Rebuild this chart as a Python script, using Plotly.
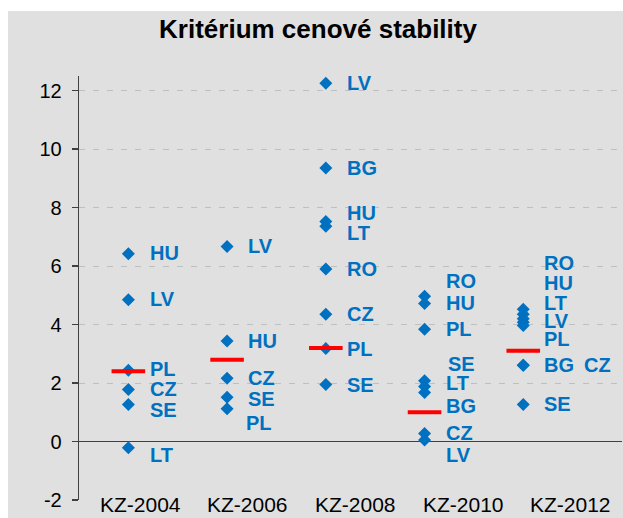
import plotly.graph_objects as go

# ---------------- data ----------------
categories = ["KZ-2004", "KZ-2006", "KZ-2008", "KZ-2010", "KZ-2012"]
column_x = [1, 2, 3, 4, 5]                 # position of each column of diamonds
category_label_x = [1.12, 2.21, 3.30, 4.39, 5.48]

y_tick_values = [-2, 0, 2, 4, 6, 8, 10, 12]
y_tick_labels = ["-2", "0", "2", "4", "6", "8", "10", "12"]

countries_2004 = ["HU", "LV", "PL", "CZ", "SE", "LT"]
values_2004 = [6.42, 4.85, 2.44, 1.78, 1.27, -0.21]

countries_2006 = ["LV", "HU", "CZ", "SE", "PL"]
values_2006 = [6.67, 3.44, 2.16, 1.51, 1.12]

countries_2008 = ["LV", "BG", "HU", "LT", "RO", "CZ", "PL", "SE"]
values_2008 = [12.25, 9.35, 7.52, 7.36, 5.9, 4.35, 3.18, 1.95]

countries_2010 = ["RO", "HU", "PL", "SE", "LT", "BG", "CZ", "LV"]
values_2010 = [4.97, 4.72, 3.84, 2.08, 1.88, 1.68, 0.27, 0.05]

countries_2012 = ["RO", "LT", "HU", "LV", "PL", "BG", "CZ", "SE"]
values_2012 = [4.52, 4.35, 4.2, 4.08, 3.97, 2.61, 2.61, 1.27]

reference_values = [2.4, 2.8, 3.2, 1.0, 3.1]

# label placement (value-axis units)
label_y_2004 = [6.45, 4.86, 2.47, 1.79, 1.08, -0.46]
label_y_2006 = [6.67, 3.45, 2.17, 1.44, 0.62]
label_y_2008 = [12.25, 9.35, 7.81, 7.13, 5.9, 4.35, 3.18, 1.95]
label_y_2010 = [5.49, 4.74, 3.84, 2.65, 1.99, 1.22, 0.30, -0.46]
label_y_2012 = [6.10, 4.74, 5.42, 4.11, 3.49, 2.61, 2.61, 1.27]
label_dx_2004 = [0.2] * 6
label_dx_2006 = [0.19, 0.19, 0.19, 0.19, 0.17]
label_dx_2008 = [0.195] * 8
label_dx_2010 = [0.2, 0.2, 0.2, 0.22, 0.2, 0.2, 0.2, 0.2]
label_dx_2012 = [0.19, 0.19, 0.19, 0.19, 0.19, 0.19, 0.59, 0.19]

groups = [
    (countries_2004, values_2004, label_y_2004, label_dx_2004),
    (countries_2006, values_2006, label_y_2006, label_dx_2006),
    (countries_2008, values_2008, label_y_2008, label_dx_2008),
    (countries_2010, values_2010, label_y_2010, label_dx_2010),
    (countries_2012, values_2012, label_y_2012, label_dx_2012),
]

BLUE = "#0070C0"
RED = "#FF0000"
GREY_BG = "#E0E0E0"
AXIS = "#404040"
FONT = "Liberation Sans, Arial, sans-serif"

W, H = 623, 518
ML, MR, MT, MB = 79, 1, 76, 18
PW, PH = W - ML - MR, H - MT - MB

fig = go.Figure()

xs, ys = [], []
annotations = []
for cx, (names, vals, ly, ldx) in zip(column_x, groups):
    for n, v, y_lab, dx in zip(names, vals, ly, ldx):
        xs.append(cx)
        ys.append(v)
        annotations.append(dict(
            x=cx + dx, y=y_lab, xref="x", yref="y", text=n, showarrow=False,
            xanchor="left", yanchor="middle",
            font=dict(family=FONT, size=20, color=BLUE, weight="bold"),
        ))

fig.add_trace(go.Scatter(
    x=xs, y=ys, mode="markers",
    marker=dict(symbol="diamond", size=10, color=BLUE, line=dict(width=0)),
    hoverinfo="skip", showlegend=False, cliponaxis=False,
))

fig.add_trace(go.Scatter(
    x=column_x, y=reference_values, mode="markers",
    marker=dict(symbol="line-ew", size=24, color=RED,
                line=dict(color=RED, width=4)),
    hoverinfo="skip", showlegend=False, cliponaxis=False,
))

for lx, cat in zip(category_label_x, categories):
    annotations.append(dict(
        x=lx, y=-2, xref="x", yref="y", text=cat, showarrow=False,
        xanchor="center", yanchor="middle", yshift=-4,
        font=dict(family=FONT, size=21, color="#000000"),
    ))

# white strips at the left and top edges of the grey chart area
shapes = [
    dict(type="rect", xref="paper", yref="paper",
         x0=-(ML + 5) / PW, x1=(8 - ML) / PW, y0=-(MB + 5) / PH, y1=1 + (MT + 5) / PH,
         fillcolor="white", line=dict(width=0), layer="below"),
    dict(type="rect", xref="paper", yref="paper",
         x0=-(ML + 5) / PW, x1=1 + (MR + 5) / PW, y0=1 + (MT - 11) / PH, y1=1 + (MT + 5) / PH,
         fillcolor="white", line=dict(width=0), layer="below"),
]

fig.update_layout(
    width=W, height=H,
    margin=dict(l=ML, r=MR, t=MT, b=MB),
    paper_bgcolor=GREY_BG,
    plot_bgcolor=GREY_BG,
    title=dict(
        text="Kritérium cenové stability",
        x=318 / W, xref="container", xanchor="center",
        y=1 - 29 / H, yref="container", yanchor="middle",
        font=dict(family=FONT, size=26, color="#000000", weight="bold"),
    ),
    xaxis=dict(
        range=[0.5, 6.0], showgrid=False, zeroline=False, showline=False,
        showticklabels=False, ticks="", fixedrange=True,
    ),
    yaxis=dict(
        range=[-2, 12.5], tickvals=y_tick_values, ticktext=y_tick_labels,
        showgrid=True, gridcolor="#BFBFBF", griddash="6px,8px", gridwidth=1,
        zeroline=True, zerolinecolor=AXIS, zerolinewidth=1.3,
        showline=True, linecolor=AXIS, linewidth=1.3,
        ticks="outside", ticklen=6, tickcolor=AXIS, tickwidth=1.3,
        tickfont=dict(family=FONT, size=20, color="#000000"),
        ticklabelstandoff=6, fixedrange=True,
    ),
    shapes=shapes,
    annotations=annotations,
)

fig.write_html(
    "out.html",
    config={"displayModeBar": False, "staticPlot": True},
    post_script="document.body.style.margin='0px';"
                "document.body.style.overflow='hidden';",
)
